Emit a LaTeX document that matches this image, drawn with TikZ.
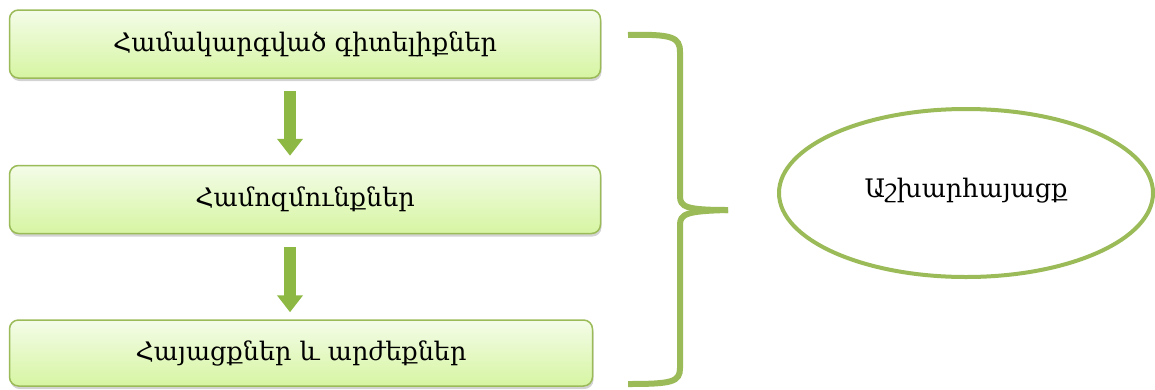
\documentclass[tikz,border=0pt]{standalone}
\usepackage{fontspec}
\setmainfont{DejaVu Serif}
\usetikzlibrary{arrows.meta,shadows,shapes.geometric}
\definecolor{leafgreen}{HTML}{9BBB59}
\definecolor{boxtop}{HTML}{F4FCE8}
\definecolor{boxbot}{HTML}{D6F5A2}
\definecolor{arrowgreen}{HTML}{8DB843}

\begin{document}
\begin{tikzpicture}[x=1pt,y=-1pt]
	\tikzstyle{every node}+=[inner sep=0pt]
	\tikzstyle{box}=[draw=leafgreen, line width=1.5pt, rounded corners=9pt, top color=boxtop, bottom color=boxbot, minimum width=591pt, minimum height=68pt, drop shadow={opacity=0.35, shadow xshift=1pt, shadow yshift=-3pt}, font=\fontsize{25.5}{30}\selectfont]
	\tikzstyle{flow}=[draw=arrowgreen, line width=12pt, -{Triangle[width=25pt,length=17pt]}]
	\useasboundingbox (0,0) rectangle (1155,389);
	\node[box] (k1) at (305,44) {Համակարգված գիտելիքներ};
	\node[box] (k2) at (305,199.5) {Համոզմունքներ};
	\node[box, minimum width=583pt, minimum height=66pt] (k3) at (301,353) {Հայացքներ և արժեքներ};
	\draw[flow, shorten <=12pt, shorten >=9pt] ([xshift=-15pt]k1.south) -- ([xshift=-15pt]k2.north);
	\draw[flow, shorten <=13pt, shorten >=7pt] ([xshift=-15pt]k2.south) -- ([xshift=-11pt]k3.north);
	\draw [leafgreen, line width=6pt] (628,35) .. controls (672,34) and (680,37) .. (680,52) -- (680,196) .. controls (680,207) and (686,210) .. (728,210);
	\draw [leafgreen, line width=6pt] (728,210) .. controls (686,211) and (680,214) .. (680,225) -- (680,368) .. controls (680,382) and (672,384) .. (628,384);
	\node[ellipse, draw=leafgreen, line width=4pt, fill=white, minimum width=374pt, minimum height=168pt, font=\fontsize{25.5}{30}\selectfont] (w) at (966,193) {\raisebox{11pt}{Աշխարհայացք}};
\end{tikzpicture}
\end{document}
